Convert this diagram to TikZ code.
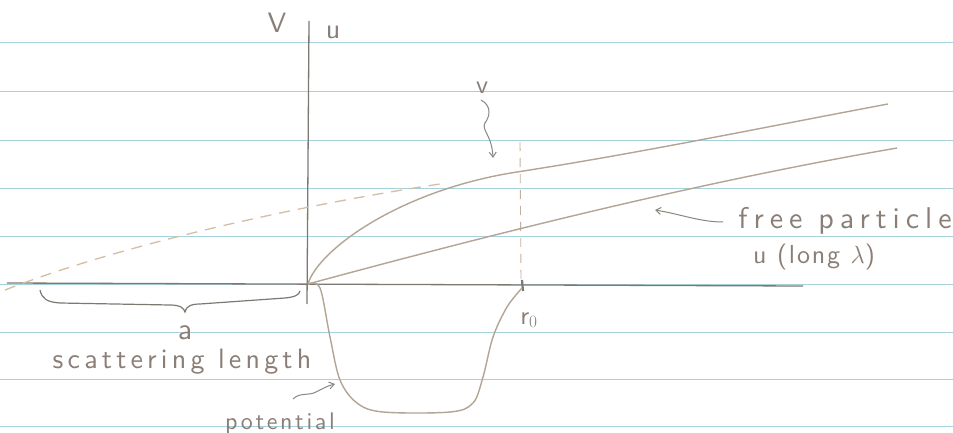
\documentclass[tikz,border=0pt]{standalone}
\usepackage{fontspec}
\newfontfamily\hand{lmsans10-regular.otf}
\usetikzlibrary{arrows.meta}
\definecolor{paper}{HTML}{A6D2DC}
\definecolor{pencil}{HTML}{7E7873}
\definecolor{curvecol}{HTML}{B3A595}
\definecolor{dashcol}{HTML}{D2BEA4}
\definecolor{ink}{HTML}{8A7E76}
\begin{document}
\begin{tikzpicture}[x=1pt,y=-1pt,
  ruled/.style={paper, line width=0.9pt},
  axisline/.style={pencil, line width=1.3pt},
  curveline/.style={curvecol, line width=1.4pt},
  dashline/.style={dashcol, line width=1.3pt, dash pattern=on 11pt off 8pt},
  vdash/.style={dashcol!80!gray, line width=0.9pt, dash pattern=on 9pt off 7pt},
  lbl/.style={ink, inner sep=0pt},
  wavy/.style={pencil!90, line width=1pt, -{Straight Barb[length=5pt,width=7pt]}},
  hsize/.style 2 args={font=\hand\fontsize{#1}{#1}\selectfont\addfontfeature{LetterSpace=#2}},
]
\useasboundingbox[fill=white] (0,0) rectangle (953,433);
% ruled paper
\foreach \yy in {42,91,140,188,236,284,332,379,426}
  \draw[ruled] (0,\yy) -- (953,\yy);
% axes
\coordinate (O) at (308,284);
\draw[axisline] (7,283) -- (803,286);
\draw[axisline] (309,21) -- (307,304);
\draw[pencil, line width=2.2pt] (522,280) -- (523,291);
% dashed vertical at r0
\draw[vdash] (520,142) -- (521,280);
% extrapolated dashed line
\draw[dashline] (5,290) .. controls (120,245) and (300,205) .. (440,184);
% v curve
\draw[curveline] (O) .. controls (318,250) and (400,190) .. (517,172) .. controls (640,153) and (760,128) .. (888,104);
% free particle line
\draw[curveline] (O) .. controls (500,232) and (700,182) .. (897,148);
% potential well
\draw[curveline] plot[smooth, tension=0.55] coordinates {(O) (320,288) (330,337) (340,380) (357,403) (383,412) (450,412) (473,403) (483,377) (493,337) (507,307) (522,288)};
% brace
\draw[pencil, line width=1.2pt] (40,290) .. controls (42,299) and (47,302) .. (60,303) -- (170,305) .. controls (180,305) and (184,308) .. (185,312) .. controls (186,307) and (190,304) .. (200,304) -- (285,298) .. controls (295,297) and (299,295) .. (300,291);
% labels
\node[lbl, hsize={28}{0}] (lV) at (277,23) {V};
\node[lbl, hsize={28}{0}] (lu) at (333,32) {u};
\node[lbl, hsize={26}{0}] (lv) at (482,88) {v};
\node[lbl, hsize={26}{0}] (lr) at (529,320) {r$_0$};
\node[lbl, hsize={30}{0}] (la) at (185,333) {a};
\node[lbl, hsize={28}{15}] (lsc) at (182,362) {scattering length};
\node[lbl, hsize={24}{11}] (lpot) at (280,423) {potential};
\node[lbl, hsize={30}{20}] (lfree) at (845,221) {free particle};
\node[lbl, hsize={26}{7}] (llong) at (814,257) {u (long $\lambda$)};
% pointers
\coordinate (vtip) at (493,158);
\draw[wavy] (lv.south) ++(-1,6) .. controls (492,106) and (490,116) .. (485,123) .. controls (481,130) and (492,135) .. (vtip);
\coordinate (pstart) at (293,399);
\coordinate (ptip) at (335,384);
\draw[wavy] (pstart) .. controls (300,392) and (309,396) .. (316,392) .. controls (322,389) and (327,386) .. (ptip);
\coordinate (fstart) at (723,222);
\coordinate (ftip) at (655,210);
\draw[wavy] (fstart) .. controls (700,222) and (680,214) .. (ftip);
\end{tikzpicture}
\end{document}
